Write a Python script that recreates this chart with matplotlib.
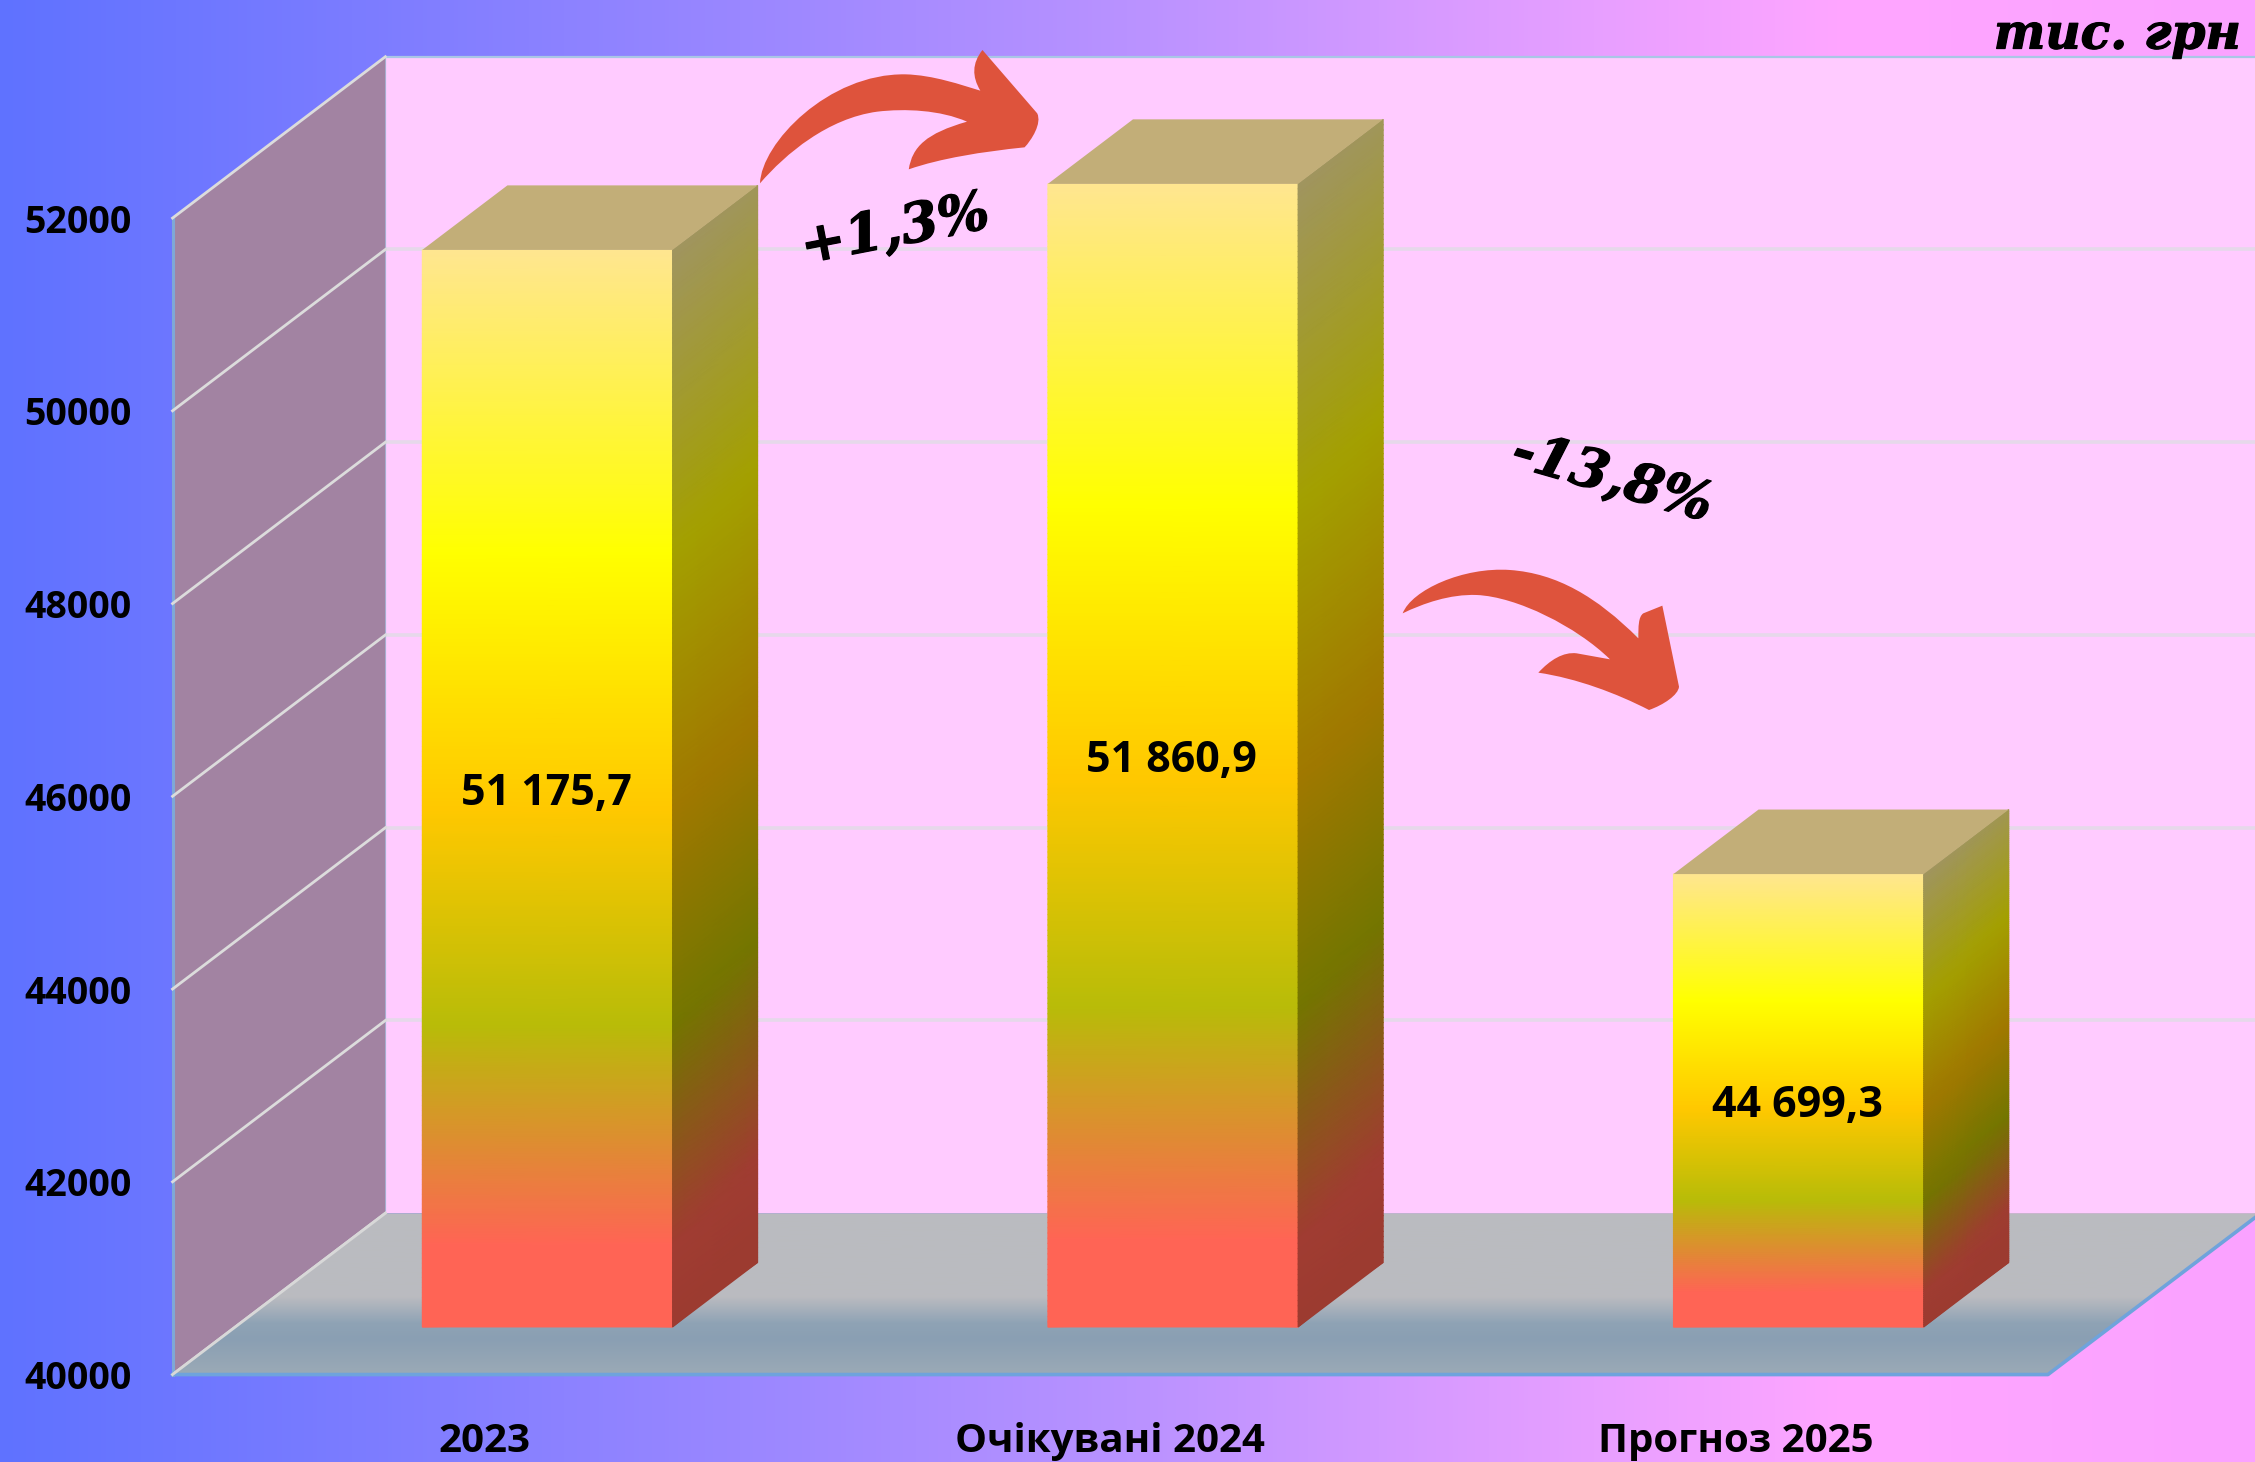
import numpy as np
import matplotlib
matplotlib.use("Agg")
import matplotlib.pyplot as plt
import matplotlib.patheffects as pe
from matplotlib.colors import LinearSegmentedColormap
from matplotlib.patches import PathPatch, Polygon
from matplotlib.path import Path
from matplotlib.transforms import Affine2D

##### Data #####
categories = ["2023", "Очікувані 2024", "Прогноз 2025"]
values = [51175.7, 51860.9, 44699.3]
y_ticks = [40000, 42000, 44000, 46000, 48000, 50000, 52000]
unit_label = "тис. грн"
change_labels = ["+1,3%", "-13,8%"]

##### Layout of the fake 3D box (category / value units) #####
W, H = 2255, 1462
xlim = (-0.7747, 2.830)
ylim = (39092.7, 54262.7)
wall_x = -0.4989
floor_right = 2.499
depth_x = 0.3402
depth_y = 1674.0
bar_width = 0.4
bar_start = 0.295
bar_depth = 0.4
y_min, y_max = y_ticks[0], y_ticks[-1]

fig = plt.figure(figsize=(W / 100, H / 100), dpi=100)
ax = fig.add_axes([0, 0, 1, 1])
ax.set_axisbelow(False)
for s in ax.spines.values():
    s.set_visible(False)

#Pixel coordinates of the reference, for decorations only
px = Affine2D().scale(1, -1).translate(0, H)


def cmap_of(stops, name):
    return LinearSegmentedColormap.from_list(name, stops, N=512)


def pt(x, v, d):
    return (x + d * depth_x, v + d * depth_y)


#Page background
bg_cmap = cmap_of([(0, "#5F72FF"), (0.25, "#8C82FF"), (0.5, "#B992FF"), (0.66, "#DD9CFF"),
                   (0.82, "#FFA6FF"), (1, "#FAA2FF")], "bg")
ax.imshow(np.linspace(0, 1, 512).reshape(1, -1), cmap=bg_cmap, aspect="auto",
          extent=(xlim[0], xlim[1], ylim[0], ylim[1]), zorder=0)

#Back wall
back = [pt(wall_x, y_min, 1), pt(xlim[1] + 1, y_min, 1), pt(xlim[1] + 1, y_max, 1), pt(wall_x, y_max, 1)]
ax.add_patch(Polygon(back, closed=True, fc="#FFCBFF", ec="none", zorder=0.2))
ax.plot([back[0][0], back[3][0], back[2][0]], [back[0][1], back[3][1], back[2][1]],
        color="#A9C6E6", lw=1.6, zorder=0.3)

#Left wall
left = [pt(wall_x, y_min, 0), pt(wall_x, y_min, 1), pt(wall_x, y_max, 1), pt(wall_x, y_max, 0)]
ax.add_patch(Polygon(left, closed=True, fc="#A283A2", ec="none", zorder=0.3))
ax.plot([left[0][0], left[3][0]], [left[0][1], left[3][1]], color="#7FA8D6", lw=2.2, zorder=0.4)

#Gridlines, wall then back
for t in y_ticks:
    a, b = pt(wall_x, t, 0), pt(wall_x, t, 1)
    ax.plot([a[0], b[0]], [a[1], b[1]], color="#DCDCDC", lw=2, zorder=0.5)
    if t not in (y_min, y_max):
        ax.plot([b[0], xlim[1]], [b[1], b[1]], color="#E6D8EA", lw=2.6, zorder=0.25)

#Floor
floor_pts = [pt(wall_x, y_min, 0), pt(floor_right, y_min, 0), pt(floor_right, y_min, 1), pt(wall_x, y_min, 1)]
floor_cmap = cmap_of([(0, "#9BAAB6"), (0.22, "#8A9FB3"), (0.32, "#8FA3B5"), (0.48, "#BABBC0"), (1, "#BBBCC0")], "floor")
floor_im = ax.imshow(np.linspace(0, 1, 256).reshape(-1, 1), cmap=floor_cmap, aspect="auto", origin="lower",
                     extent=(xlim[0], xlim[1] + 1, y_min, y_min + depth_y), zorder=0.6)
floor_poly = Polygon(floor_pts, closed=True, transform=ax.transData, fc="none", ec="none")
ax.add_patch(floor_poly)
floor_im.set_clip_path(floor_poly)
ax.plot([p[0] for p in floor_pts[:3]] + [xlim[1] + 1], [p[1] for p in floor_pts[:3]] + [floor_pts[2][1]],
        color="#6FA3DC", lw=2.6, zorder=0.7)
ax.plot([floor_pts[0][0], floor_pts[3][0]], [floor_pts[0][1], floor_pts[3][1]], color="#D8D8D8", lw=2, zorder=0.7)

#Bars
front_cmap = cmap_of([(0, "#FFE690"), (0.28, "#FFFF00"), (0.52, "#FFC800"), (0.72, "#B8BC08"),
                      (0.925, "#FF6455"), (1, "#FF6455")], "front")
side_cmap = cmap_of([(0, "#A09560"), (0.28, "#A3A000"), (0.52, "#A07800"), (0.72, "#747600"),
                     (0.925, "#A03C32"), (1, "#9C3B30")], "side")

for i, (cat, v) in enumerate(zip(categories, values)):
    x0 = i - bar_width / 2 + bar_start * depth_x
    x1 = x0 + bar_width
    base = y_min + bar_start * depth_y
    top = v + bar_start * depth_y
    rows = np.linspace(0, 1, 220)

    #front face
    X = np.array([[x0, x1]] * rows.size)
    Y = np.column_stack([top + (base - top) * rows] * 2)
    C = np.column_stack([rows, rows])
    ax.pcolormesh(X, Y, C, cmap=front_cmap, vmin=0, vmax=1, shading="gouraud", zorder=1)

    #side face, colours run a little steeper than the edges
    dx, dy = bar_depth * depth_x, bar_depth * depth_y
    X = np.array([[x1, x1 + dx]] * rows.size)
    Y = np.column_stack([top + (base - top) * rows, top + dy + (base - top) * rows])
    shift = 210.0 / (v - y_min)
    C = np.column_stack([rows, np.clip(rows + shift, 0, 1)])
    ax.pcolormesh(X, Y, C, cmap=side_cmap, vmin=0, vmax=1, shading="gouraud", zorder=1)

    #top face
    ax.add_patch(Polygon([(x0, top), (x1, top), (x1 + dx, top + dy), (x0 + dx, top + dy)],
                         closed=True, fc="#C2AE78", ec="none", zorder=1.1))

    #value label
    label = f"{v:,.1f}".replace(",", " ").replace(".", ",")
    ax.text((x0 + x1) / 2 - 0.002, (top + base) / 2 - 50, label, ha="center", va="center", color="black",
            fontsize=31, fontweight="bold", family="Open Sans", zorder=3)


#Curved arrows
def arrow(points, codes, off, sx, sy):
    verts = [(off[0] + a / sx, off[1] + b / sy) for a, b in points]
    ax.add_patch(PathPatch(Path(verts, codes), fc="#DE533C", ec="none", transform=px, zorder=2))


C4, L2 = Path.CURVE4, Path.LINETO
codes_up = [Path.MOVETO] + [C4] * 9 + [L2] + [C4] * 15
pts_up = [(1083, 460),
          (1085, 340), (1180, 130), (1290, 133),
          (1330, 135), (1370, 165), (1397, 182),
          (1385, 140), (1385, 100), (1400, 60),
          (1478, 250),
          (1485, 280), (1470, 330), (1460, 352),
          (1400, 365), (1340, 385), (1295, 418),
          (1300, 350), (1320, 310), (1378, 275),
          (1340, 240), (1290, 235), (1250, 245),
          (1180, 265), (1120, 370), (1083, 460)]
arrow(pts_up, codes_up, (0, 30), 1.425, 3)

codes_down = [Path.MOVETO] + [C4] * 9 + [L2, L2] + [C4] * 9 + [L2] + [C4] * 6
pts_down = [(158, 640),
            (185, 570), (340, 500), (480, 510),
            (620, 520), (740, 590), (865, 715),
            (865, 680), (865, 650), (880, 640),
            (937, 617),
            (987, 860),
            (985, 885), (940, 915), (897, 930),
            (800, 880), (680, 835), (565, 818),
            (600, 780), (640, 755), (680, 760),
            (780, 778),
            (680, 680), (500, 590), (380, 585),
            (300, 582), (220, 610), (158, 640)]
arrow(pts_down, codes_down, (1350, 400), 3, 3)

#Annotations
heavy = [pe.withStroke(linewidth=0.9, foreground="black")]
serif = dict(family="DejaVu Serif", fontweight="bold", fontstyle="italic", color="black",
             transform=px, zorder=3, path_effects=heavy)
ax.text(2241, 35, unit_label, ha="right", va="center", fontsize=35, **serif)
ax.text(895, 231, change_labels[0], ha="center", va="center", fontsize=39, rotation=11, **serif)
ax.text(1612, 479, change_labels[1], ha="center", va="center", fontsize=39, rotation=-16, **serif)

#Axes, ticks sit inside the full-figure axes
ax.set_xlim(*xlim)
ax.set_ylim(*ylim)
ax.set_yticks(y_ticks)
ax.set_yticklabels([str(t) for t in y_ticks])
ax.set_xticks(range(len(categories)))
ax.set_xticklabels(categories)
ax.tick_params(axis="y", length=0, pad=-95)
ax.tick_params(axis="x", length=0, pad=-29)
plt.setp(ax.get_yticklabels(), family="Open Sans", fontweight="bold", fontsize=27)
plt.setp(ax.get_xticklabels(), family="Open Sans", fontweight="bold", fontsize=29)

fig.savefig("out.png", dpi=100)
